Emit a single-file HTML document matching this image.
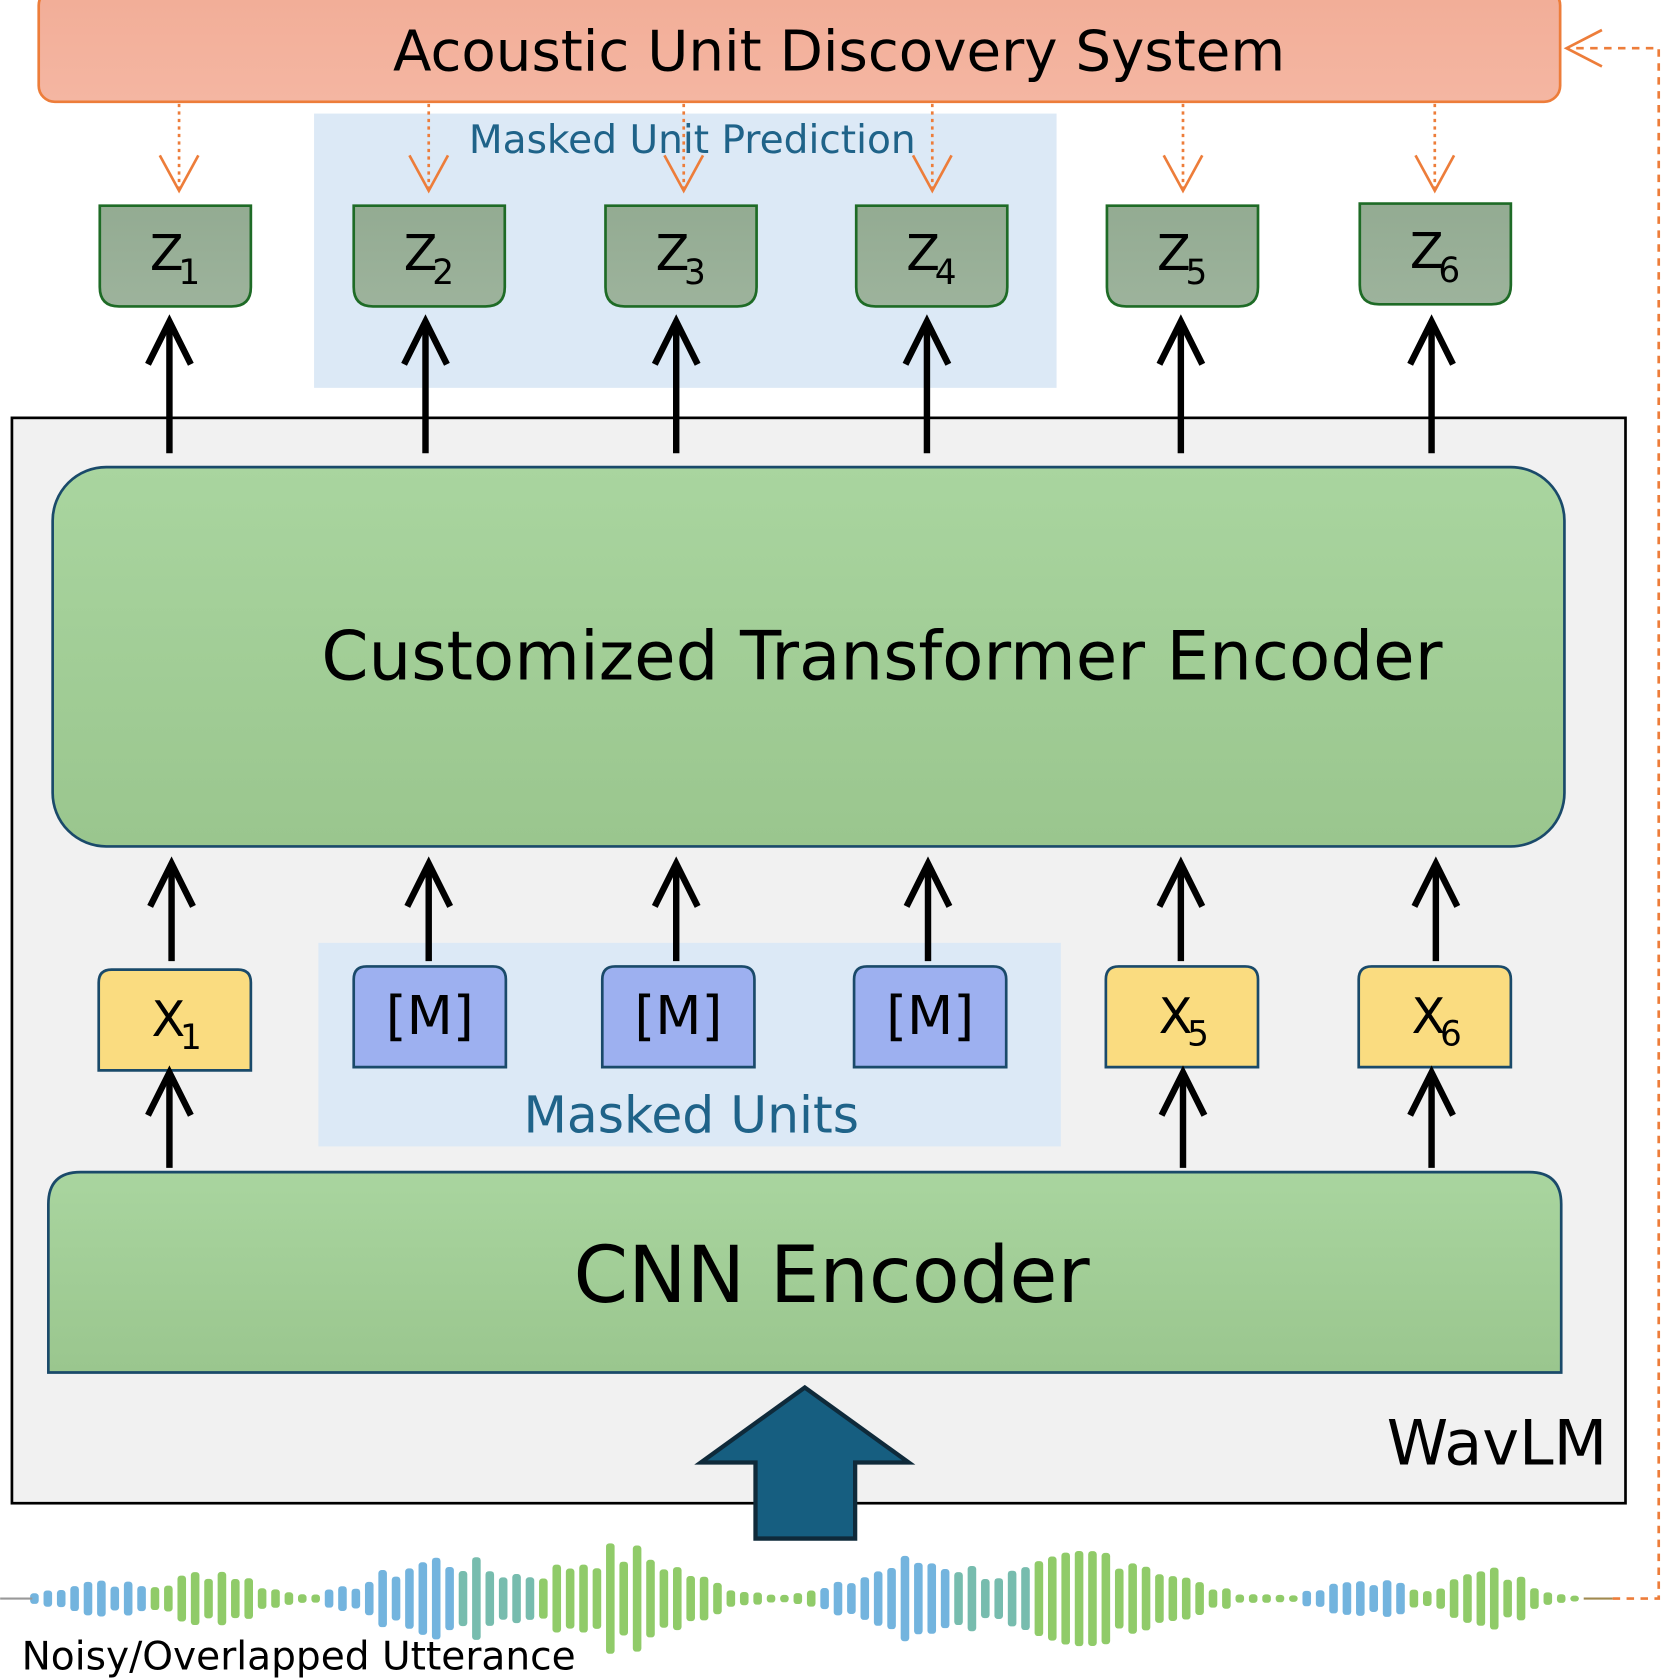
<!DOCTYPE html>
<html><head><meta charset="utf-8"><style>html,body{margin:0;padding:0;background:#fff}svg{display:block}</style></head>
<body>
<svg id="s" xmlns="http://www.w3.org/2000/svg" width="1661" height="1680" viewBox="0 0 1550 1568" font-family="'DejaVu Sans','Liberation Sans',sans-serif">
<defs>
<linearGradient id="g1" x1="0" y1="0" x2="0" y2="1"><stop offset="0" stop-color="#f2ad97"/><stop offset="1" stop-color="#f4b6a2"/></linearGradient>
<linearGradient id="g2" x1="0" y1="0" x2="0" y2="1"><stop offset="0" stop-color="#a9d59f"/><stop offset="1" stop-color="#9ac68e"/></linearGradient>
<linearGradient id="g3" x1="0" y1="0" x2="0" y2="1"><stop offset="0" stop-color="#93ab92"/><stop offset="1" stop-color="#9db39c"/></linearGradient>
</defs>
<rect x="36" y="-10" width="1420" height="105" rx="15" fill="url(#g1)" stroke="#ed7d3a" stroke-width="2.5"/>
<text x="783" y="66" font-size="52.5" text-anchor="middle">Acoustic Unit Discovery System</text>
<rect x="293" y="106" width="693" height="256" fill="#dce9f6"/>
<text x="646" y="143" font-size="36.5" text-anchor="middle" fill="#1f6389">Masked Unit Prediction</text>
<g id="orange" stroke="#ed7d3a" stroke-width="2.5" fill="none"></g>
<g id="zs"></g>
<rect x="11" y="390" width="1506" height="1013" fill="#f1f1f1" stroke="#000" stroke-width="2.5"/>
<rect x="49" y="436" width="1411" height="354" rx="50" fill="url(#g2)" stroke="#1a4a6a" stroke-width="2.5"/>
<text x="823" y="634" font-size="63" text-anchor="middle">Customized Transformer Encoder</text>
<rect x="297" y="880" width="693" height="190" fill="#dce9f6"/>
<text x="645" y="1057" font-size="47" text-anchor="middle" fill="#1f6389">Masked Units</text>
<g id="xs"></g>
<path d="M45 1281 V1124 Q45 1094 75 1094 H1427 Q1457 1094 1457 1124 V1281 Z" fill="url(#g2)" stroke="#1a4a6a" stroke-width="2.5"/>
<text x="776" y="1215" font-size="73" text-anchor="middle">CNN Encoder</text>
<polygon points="751,1295 848,1365 798,1365 798,1436 705,1436 705,1365 654,1365" fill="#165e80" stroke="#0f2a3a" stroke-width="4"/>
<text x="1500" y="1367" font-size="58" text-anchor="end">WavLM</text>
<g id="arrows" stroke="#000" stroke-width="6" fill="none" stroke-linecap="butt"></g>
<g id="wave"></g>
<line x1="0" y1="1492" x2="30" y2="1492" stroke="#999" stroke-width="2"/>
<line x1="1478" y1="1492" x2="1505" y2="1492" stroke="#a08a50" stroke-width="2"/>
<path d="M1505 1492 H1548 V45 H1464" stroke="#ed7d3a" stroke-width="2.5" fill="none" stroke-dasharray="7 6"/>
<path d="M1495 28 L1462 45 L1495 62" stroke="#ed7d3a" stroke-width="2.5" fill="none"/>
<text x="20" y="1558" font-size="36.5">Noisy/Overlapped Utterance</text>
<script>
var NS="http://www.w3.org/2000/svg";
function el(p,t,a,txt){var e=document.createElementNS(NS,t);for(var k in a)e.setAttribute(k,a[k]);if(txt!=null)e.textContent=txt;document.getElementById(p).appendChild(e);return e;}
[167,400,638,870,1104,1339].forEach(function(x){
 el("orange","line",{x1:x,y1:97,x2:x,y2:176,"stroke-dasharray":"3 4"});
 el("orange","path",{d:"M"+(x-18)+" 145 L"+x+" 178 L"+(x+18)+" 145"});
});
var zx=[93,330,565,799,1033,1269];
zx.forEach(function(x,i){
 var y=i==5?190:192,w=141,h=94,r=18;
 el("zs","path",{d:"M"+x+" "+y+" H"+(x+w)+" V"+(y+h-r)+" Q"+(x+w)+" "+(y+h)+" "+(x+w-r)+" "+(y+h)+" H"+(x+r)+" Q"+x+" "+(y+h)+" "+x+" "+(y+h-r)+" Z",fill:"url(#g3)",stroke:"#1e6b26","stroke-width":2.5});
 el("zs","text",{x:x+w/2-8,y:y+60,"font-size":46,"text-anchor":"middle"},"Z");
 el("zs","text",{x:x+w/2+13,y:y+73,"font-size":32,"text-anchor":"middle"},String(i+1));
});
var xb=[[92,905,"#fadc80","X",1],[330,902,"#9db0f0","[M]"],[562,902,"#9db0f0","[M]"],[797,902,"#9db0f0","[M]"],[1032,902,"#fadc80","X",5],[1268,902,"#fadc80","X",6]];
xb.forEach(function(b){
 var x=b[0],y=b[1],w=142,h=94,r=12;
 el("xs","path",{d:"M"+x+" "+(y+h)+" V"+(y+r)+" Q"+x+" "+y+" "+(x+r)+" "+y+" H"+(x+w-r)+" Q"+(x+w)+" "+y+" "+(x+w)+" "+(y+r)+" V"+(y+h)+" Z",fill:b[2],stroke:"#1a4a6a","stroke-width":2.5});
 if(b[3]=="[M]") el("xs","text",{x:x+w/2,y:y+63,"font-size":50,"text-anchor":"middle"},"[M]");
 else{el("xs","text",{x:x+w/2-6,y:y+62,"font-size":46,"text-anchor":"middle"},"X");
  el("xs","text",{x:x+w/2+15,y:y+74,"font-size":32,"text-anchor":"middle"},String(b[4]));}
});
function arrow(x,y1,y2){el("arrows","line",{x1:x,y1:y1,x2:x,y2:y2+3});el("arrows","path",{d:"M"+(x-20)+" "+(y2+40)+" L"+x+" "+y2+" L"+(x+20)+" "+(y2+40)});}
[158,397,631,865,1102,1336].forEach(function(x){arrow(x,423,300);});
[160,400,631,866,1102,1340].forEach(function(x){arrow(x,897,806);});
[158,1104,1336].forEach(function(x){arrow(x,1090,1001);});
var seed=7;function rnd(){seed=(seed*9301+49297)%233280;return seed/233280;}
var lobes=[[90,16,55],[200,26,60],[410,36,90],[580,44,100],[860,36,90],[1030,44,100],[1275,16,55],[1390,24,60]];
for(var x=32;x<1478;x+=12.5){
 var a=3;
 lobes.forEach(function(l){var d=(x-l[0])/l[2];a+=l[1]*Math.exp(-d*d*1.6);});
 a*=0.6+0.55*rnd();
 var col;
 if(x<140) col="#5aa7d8"; else if(x<300) col="#7cc24f";
 else if(x<430) col="#5aa7d8"; else if(x<500) col="#5fb0a0"; else if(x<760) col="#7cc24f"; else if(x<890) col="#5aa7d8"; else if(x<960) col="#5fb0a0"; else if(x<1210) col="#7cc24f"; else if(x<1310) col="#5aa7d8"; else col="#7cc24f";
 el("wave","rect",{x:x-4,y:1492-a,width:8,height:2*a,rx:3,fill:col,opacity:0.85});
}
</script>
</svg>
</body></html>
